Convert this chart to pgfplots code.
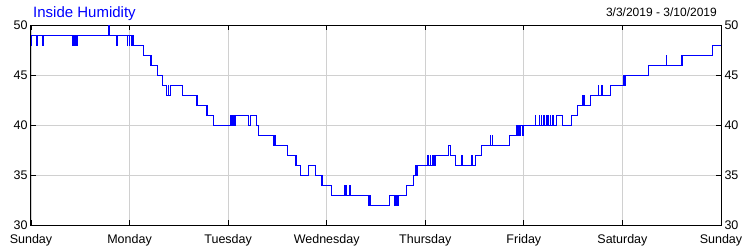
\documentclass[border=0pt]{standalone}
\usepackage{pgfplots}
\pgfplotsset{compat=1.18}
\usepackage{fontspec}
\setmainfont{Liberation Sans}
\definecolor{gridc}{RGB}{208,208,208}
\pgfplotsset{
  myaxis/.style={
    scale only axis, width=690pt, height=200pt, at={(31pt,25pt)}, anchor=south west,
    xmin=0, xmax=168, ymin=30, ymax=50,
    xtick={0,24,48,72,96,120,144,168}, ytick={30,35,40,45,50},
    tick align=inside, major tick length=5pt,
    ticklabel style={font=\fontsize{12.5}{14}\selectfont},
    /pgf/number format/assume math mode=true,
  }
}
\begin{document}
\begin{tikzpicture}
\path[use as bounding box] (0,0) rectangle (750pt,250pt);
\begin{axis}[myaxis,
  grid=major, grid style={gridc, line width=0.9pt},
  axis line style={black, line width=1pt},
  tick style={black, line width=0.9pt},
  xticklabels={Sunday,Monday,Tuesday,Wednesday,Thursday,Friday,Saturday,Sunday},
  xticklabel style={yshift=-5.5pt},
  yticklabel pos=left,
]
\addplot[const plot, blue, line width=1pt] coordinates {
(0,48) (0.243,49) (1.339,48) (1.534,49) (2.800,48) (2.995,49)
(9.983,48) (10.153,49) (10.348,48) (10.518,49) (10.713,48) (11.078,49) (11.273,48) (11.443,49)
(18.991,50) (19.162,49) (20.817,48) (20.988,49)
(23.447,48) (23.617,49) (23.861,48) (24.104,49) (24.348,48) (24.543,49) (24.762,48) (24.957,49) (25.078,48)
(27.343,47) (28.974,46) (29.145,47) (29.388,46) (30.678,45) (31.896,44) (33.040,43) (33.357,44) (33.551,43) (34.014,44)
(36.838,43) (40.174,42) (40.344,43) (40.490,42) (42.609,41) (42.779,42) (42.925,41) (44.386,40)
(48.622,41) (48.817,40) (49.061,41) (49.256,40) (49.499,41) (49.670,40) (49.840,41)
(52.908,40) (53.492,41) (54.783,40) (55.343,39) (59.043,38) (59.214,39) (59.409,38) (62.404,37)
(64.278,36) (64.449,37) (64.595,36) (65.666,35) (67.517,36) (69.148,35) (70.609,34) (70.779,35) (70.925,34)
(73.214,33) (76.282,34) (76.452,33) (76.647,34) (76.817,33) (77.548,34) (77.718,33)
(82.174,32) (82.344,33) (82.539,32) (87.238,33) (88.456,32) (88.626,33) (88.991,32) (89.186,33) (89.357,32) (89.527,33)
(91.304,34) (93.082,35) (93.666,36) (93.861,35) (94.056,36)
(96.491,37) (96.661,36) (97.148,37) (97.319,36) (97.635,37) (97.879,36) (98.122,37) (98.243,36) (98.487,37)
(101.604,38) (102.017,37) (103.235,36) (104.866,37) (105.037,36) (107.301,37) (107.471,36) (108.104,37)
(109.736,38) (111.757,39) (111.927,38) (112.243,39) (112.414,38) (116.456,39)
(118.087,40) (118.257,39) (118.452,40) (118.647,39) (118.817,40) (118.988,39) (119.183,40) (119.670,39) (119.864,40)
(122.713,41) (122.883,40) (123.687,41) (123.857,40) (124.174,41) (124.344,40) (124.783,41) (124.953,40)
(125.391,41) (125.562,40) (125.757,41) (125.951,40) (126.365,41) (126.536,40) (126.852,41) (127.169,40)
(127.826,41) (129.457,40) (131.649,41) (133.012,42) (134.278,43) (134.449,42) (134.643,43) (134.838,42)
(136.104,43) (138.052,44) (138.223,43) (138.904,44) (139.075,43) (141.145,44)
(144.213,45) (144.383,44) (144.626,45) (150.299,46) (154.609,47) (154.779,46)
(158.261,47) (158.431,46) (158.578,47) (165.980,48) (168,48)
};
\end{axis}
\begin{axis}[myaxis,
  axis line style={draw=none}, tick style={draw=none},
  xticklabels={}, yticklabel pos=right,
]
\end{axis}
\node[anchor=base west, text=blue, font=\fontsize{15}{18}\selectfont, inner sep=0pt] at (33pt,232.3pt) {Inside Humidity};
\node[anchor=base east, font=\fontsize{12}{14}\selectfont, inner sep=0pt] at (717pt,233.3pt) {3/3/2019 - 3/10/2019};
\end{tikzpicture}
\end{document}
